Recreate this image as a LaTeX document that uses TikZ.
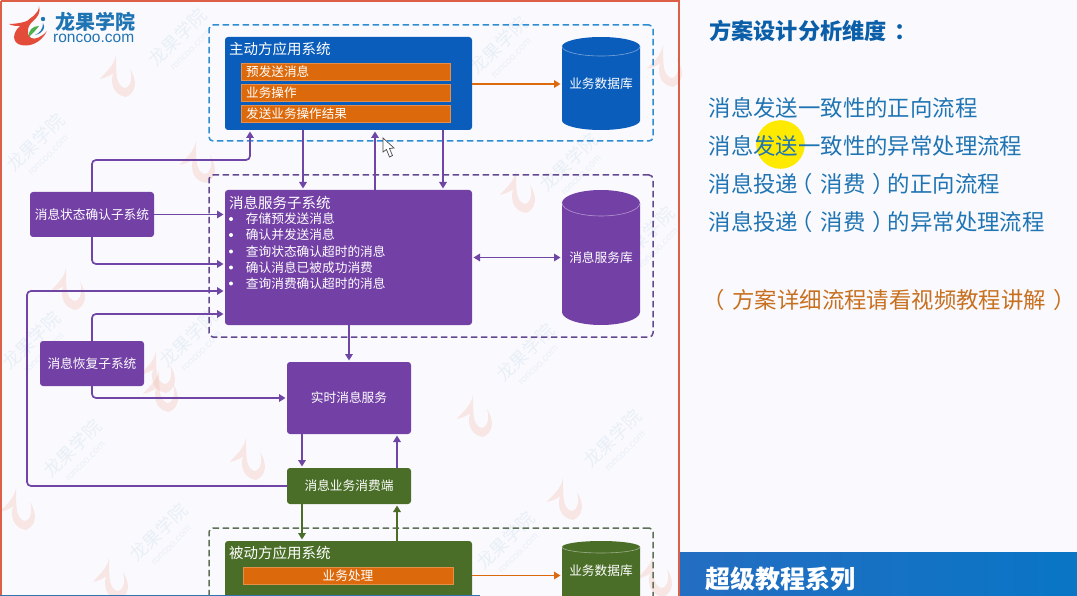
\documentclass[tikz,border=0pt]{standalone}
\usepackage{fontspec}
\setmainfont{Noto Sans CJK SC}
\newfontfamily\latinlogo{Liberation Sans}
\usetikzlibrary{arrows.meta}
\definecolor{pagebg}{HTML}{FAFAFE}
\definecolor{framered}{HTML}{DE5F48}
\definecolor{cblue}{HTML}{0B5DBB}
\definecolor{cpurple}{HTML}{7340A6}
\definecolor{cgreen}{HTML}{4A6E28}
\definecolor{corange}{HTML}{DC6A0C}
\definecolor{dblue}{HTML}{2E8CD2}
\definecolor{dpurple}{HTML}{63488F}
\definecolor{dgreen}{HTML}{5E7156}
\definecolor{lpurple}{HTML}{6F45A5}
\definecolor{textblue}{HTML}{1F74B3}
\definecolor{titleblue}{HTML}{0B5EA8}
\definecolor{textorange}{HTML}{C8701F}
\definecolor{wmblue}{HTML}{C5D8E8}
\definecolor{wmred}{HTML}{F2B8AA}
\tikzset{
  x=1pt,y=-1pt,
  box/.style={rectangle,rounded corners=3pt,inner sep=0pt,outer sep=0pt,text=white,font=\fontsize{12.7}{14}\selectfont},
  strip/.style={rectangle,fill=corange,draw=corange!75!white,line width=.5pt,inner sep=0pt,outer sep=0pt},
  stripText/.style={anchor=west,inner sep=0pt,text=white,font=\fontsize{12.6}{14}\selectfont},
  headText/.style={anchor=west,inner sep=0pt,text=white,font=\fontsize{14.5}{16}\selectfont},
  listText/.style={anchor=west,inner sep=0pt,text=white,font=\fontsize{12.7}{14}\selectfont},
  dbLabel/.style={inner sep=0pt,text=white,font=\fontsize{12.7}{14}\selectfont},
  zone/.style={rectangle,rounded corners=4pt,dashed,dash pattern=on 6.5pt off 3.5pt,line width=1.5pt,inner sep=0pt,outer sep=0pt},
  link/.style={line width=1.7pt,rounded corners=4pt,shorten >=1.5pt,-{Triangle[length=6.5pt,width=7.5pt]}},
  linkboth/.style={line width=1.7pt,shorten >=1.5pt,shorten <=1.5pt,{Triangle[length=6.5pt,width=7.5pt]}-{Triangle[length=6.5pt,width=7.5pt]}},
  rightText/.style={anchor=west,inner sep=0pt,text=textblue,font=\fontsize{22.4}{24}\selectfont},
  wmark/.style={rotate=45,inner sep=0pt,text=wmblue,opacity=.32,align=center,font=\fontsize{18}{14}\selectfont},
  wmflame/.pic={\fill[wmred,opacity=.3] (-4,-22) .. controls (-6,-10) and (-16,-4) .. (-20,2) .. controls (-12,0) and (-9,-2) .. (-7,-4) .. controls (-10,8) and (-6,18) .. (6,20) .. controls (16,16) and (18,4) .. (10,-8) .. controls (14,4) and (8,14) .. (2,10) .. controls (-6,4) and (-3,-12) .. (-4,-22) -- cycle;}
}
\newcommand{\wm}[2]{\node[wmark] (wm#1) at (#2) {龙果学院\\{\fontsize{10}{11}\selectfont\latinlogo roncoo.com}};}
\newcommand{\lpar}{\kern-7.5pt（\kern7.5pt}
\newcommand{\rpar}{\kern7.5pt）\kern-7.5pt}
% name, centre x, centre y, height, end radius, colour
\newcommand{\dbcyl}[6]{%
  \begin{scope}[shift={(#2,#3)}]
    \pgfmathsetmacro{\hh}{#4/2}\pgfmathsetmacro{\ss}{#4/2-#5}
    \pgfmathsetmacro{\kk}{#5*0.55}
    \fill[#6] (-39,-\ss) .. controls (-39,-\ss-\kk) and (-21.5,-\hh) .. (0,-\hh) .. controls (21.5,-\hh) and (39,-\ss-\kk) .. (39,-\ss) -- (39,\ss) .. controls (39,\ss+\kk) and (21.5,\hh) .. (0,\hh) .. controls (-21.5,\hh) and (-39,\ss+\kk) .. (-39,\ss) -- cycle;
    \draw[white!45!#6,line width=.6pt] (-39,-\ss) .. controls (-39,-\ss+\kk) and (-21.5,-\ss+#5) .. (0,-\ss+#5) .. controls (21.5,-\ss+#5) and (39,-\ss+\kk) .. (39,-\ss);
  \end{scope}
  \node[rectangle,inner sep=0pt,outer sep=0pt,minimum width=78pt,minimum height=#4pt] (#1) at (#2,#3) {};
}
\begin{document}
\begin{tikzpicture}
\useasboundingbox (0,0) rectangle (1077,596);
\clip (0,0) rectangle (1077,596);
\fill[pagebg] (0,0) rectangle (1077,596);
% watermarks
\wm{a}{182,42}\wm{b}{40,147}\wm{c}{503,50}\wm{d}{573,167}\wm{e}{36,345}\wm{f}{193,343}
\wm{h}{650,240}\wm{i}{530,357}\wm{j}{77,453}\wm{k}{163,537}\wm{l}{617,443}
\wm{o}{510,545}
\pic at (120,77) {wmflame};\pic at (200,163) {wmflame};\pic at (520,193) {wmflame};
\pic at (70,290) {wmflame};\pic at (160,373) {wmflame};\pic at (20,510) {wmflame};
\pic at (250,460) {wmflame};\pic at (113,580) {wmflame};\pic at (163,392) {wmflame};
\pic at (477,417) {wmflame};\pic at (567,500) {wmflame};\pic at (657,577) {wmflame};
\pic at (667,67) {wmflame};
% frame
\draw[framered,line width=2pt] (1,1) -- (679,1) -- (679,596);
\draw[framered,line width=2pt] (1,1) -- (1,596);
% logo
\fill[framered!80!red] (39,6) .. controls (39,14) and (30,18) .. (27,21) .. controls (22,23) and (14,24) .. (9,24) .. controls (12,26) and (17,26) .. (20,26) .. controls (12,33) and (12,43) .. (21,45) .. controls (30,47) and (41,43) .. (47,31) .. controls (42,37) and (35,40) .. (31,38) .. controls (26,35) and (27,26) .. (33,21) .. controls (38,17) and (41,12) .. (39,6) -- cycle;
\fill[green!55!black!70!white] (29,37) .. controls (28,30) and (33,26) .. (39,26) .. controls (36,30) and (33,33) .. (29,37) -- cycle;
\fill[textblue] (43,19) circle (2.2);
\fill[textblue] (35,35) .. controls (40,33) and (43,29) .. (43,23) .. controls (46,28) and (43,33) .. (35,35) -- cycle;
\node[inner sep=0pt,anchor=west,text=textblue,font=\fontsize{20}{22}\selectfont\bfseries] (logoCn) at (55,22) {龙果学院};
\node[inner sep=0pt,anchor=west,text=textblue,font=\fontsize{15.5}{16}\selectfont\latinlogo] (logoEn) at (53,38) {roncoo.com};
% zones
\node[zone,draw=dblue,minimum width=444pt,minimum height=116pt] (zoneApp) at (431,83) {};
\node[zone,draw=dpurple,minimum width=444pt,minimum height=162pt] (zoneSvc) at (431,256) {};
\node[zone,draw=dgreen,minimum width=444pt,minimum height=116pt] (zonePas) at (431,586) {};
% main boxes
\node[box,fill=cblue,minimum width=247pt,minimum height=93pt] (app) at (348.5,83.5) {};
\node[headText] (appT) at (229,49) {主动方应用系统};
\node[strip,minimum width=209pt,minimum height=17pt] (s1) at (345.5,71.5) {};
\node[strip,minimum width=209pt,minimum height=17pt] (s2) at (345.5,92.5) {};
\node[strip,minimum width=209pt,minimum height=17pt] (s3) at (345.5,113.5) {};
\node[stripText] (s1T) at (246,71.5) {预发送消息};
\node[stripText] (s2T) at (246,92.5) {业务操作};
\node[stripText] (s3T) at (246,113.5) {发送业务操作结果};
\dbcyl{db1}{601}{83.5}{93}{9.5}{cblue}
\node[dbLabel] (db1T) at (601,84) {业务数据库};
\node[box,fill=cpurple,minimum width=247pt,minimum height=135pt] (svc) at (348.5,257.5) {};
\node[headText] (svcT) at (229,203) {消息服务子系统};
\foreach \yy/\nn/\tt in {219/a/存储预发送消息,235/b/确认并发送消息,251.5/c/查询状态确认超时的消息,267.5/d/确认消息已被成功消费,283.5/e/查询消费确认超时的消息}{
  \fill[white] (231,\yy) circle (2);
  \node[listText] (li\nn) at (245.7,\yy) {\tt};
}
\dbcyl{db2}{601}{257.5}{135}{13}{cpurple}
\node[dbLabel] (db2T) at (601,258) {消息服务库};
\node[box,fill=cpurple,minimum width=124pt,minimum height=45pt] (status) at (92,214.5) {消息状态确认子系统};
\node[box,fill=cpurple,minimum width=104pt,minimum height=45pt] (recov) at (92,363.5) {消息恢复子系统};
\node[box,fill=cpurple,minimum width=124pt,minimum height=72pt] (rt) at (349,398) {实时消息服务};
\node[box,fill=cgreen,minimum width=124pt,minimum height=36pt] (cons) at (349,486) {消息业务消费端};
\node[box,fill=cgreen,minimum width=247pt,minimum height=100pt] (pas) at (348.5,591) {};
\node[headText] (pasT) at (229,553) {被动方应用系统};
\node[strip,minimum width=210pt,minimum height=17pt] (s4) at (348,575.5) {};
\node[dbLabel] (s4T) at (348,575.5) {业务处理};
\dbcyl{db3}{601}{591}{100}{6}{cgreen}
\node[dbLabel] (db3T) at (601,571) {业务数据库};
% connectors
\coordinate (m1) at (170,160);
\coordinate (m2) at (27,400);
\draw[link,lpurple] (status.north) |- (m1) -| ([xshift=-98.5pt]app.south);
\draw[link,lpurple] ([xshift=-45.5pt]app.south) -- ([xshift=-45.5pt]svc.north);
\draw[link,lpurple] ([xshift=26.5pt]svc.north) -- ([xshift=26.5pt]app.south);
\draw[link,lpurple] ([xshift=94.5pt]app.south) -- ([xshift=94.5pt]svc.north);
\draw[link,corange] ([yshift=-0.5pt]app.east) -- ([yshift=-0.5pt]app.east -| db1.west);
\draw[linkboth,lpurple] (svc.east) -- (db2.west |- svc.east);
\draw[link,lpurple] (status.east) -- (status.east -| svc.west);
\draw[link,lpurple] (status.south) |- ([yshift=-6.5pt]svc.west);
\draw[link,lpurple] (cons.west) -| (m2) |- ([yshift=-33.5pt]svc.west);
\draw[link,lpurple] (recov.north) |- ([yshift=-56.5pt]svc.west);
\draw[link,lpurple] (recov.south) |- (rt.west);
\draw[link,lpurple] (svc.south -| rt.north) -- (rt.north);
\draw[link,lpurple] ([xshift=-47pt]rt.south) -- ([xshift=-47pt]cons.north);
\draw[link,lpurple] ([xshift=48pt]cons.north) -- ([xshift=48pt]rt.south);
\draw[link,cgreen] ([xshift=-47pt]cons.south) -- ([xshift=-46.5pt]pas.north);
\draw[link,cgreen] ([xshift=48.5pt]pas.north) -- ([xshift=48pt]cons.south);
\draw[link,corange] (s4.east -| pas.east) -- (s4.east -| db3.west);
% cursor
\draw[black!70,fill=white,line width=.7pt] (383,138) -- (383,152) -- (386.5,149.5) -- (389.5,157) -- (392.5,155.5) -- (389.5,148.5) -- (394,148) -- cycle;
% right panel
\fill[yellow!92!orange] (780.5,144.5) circle (24.3);
\node[anchor=west,inner sep=0pt,text=titleblue,font=\fontsize{22.2}{24}\selectfont\bfseries] (rTitle) at (709,31) {方案设计分析维度\kern8pt：};
\node[rightText] (r1) at (708.5,108) {消息发送一致性的正向流程};
\node[rightText] (r2) at (708.5,146) {消息发送一致性的异常处理流程};
\node[rightText] (r3) at (708.5,184) {消息投递\lpar 消费\rpar 的正向流程};
\node[rightText] (r4) at (708.5,222) {消息投递\lpar 消费\rpar 的异常处理流程};
\node[rightText,text=textorange] (r5) at (710,300) {\lpar 方案详细流程请看视频教程讲解\rpar};
% bottom
\fill[cyan!60!blue!80!black] (0,595) rectangle (480,596);
\shade[left color=cblue!90!white,right color=cblue!85!cyan] (680,552) rectangle (1077,596);
\node[anchor=west,inner sep=0pt,text=white,font=\fontsize{25}{27}\selectfont\bfseries] (banner) at (705,579) {超级教程系列};
\end{tikzpicture}
\end{document}
